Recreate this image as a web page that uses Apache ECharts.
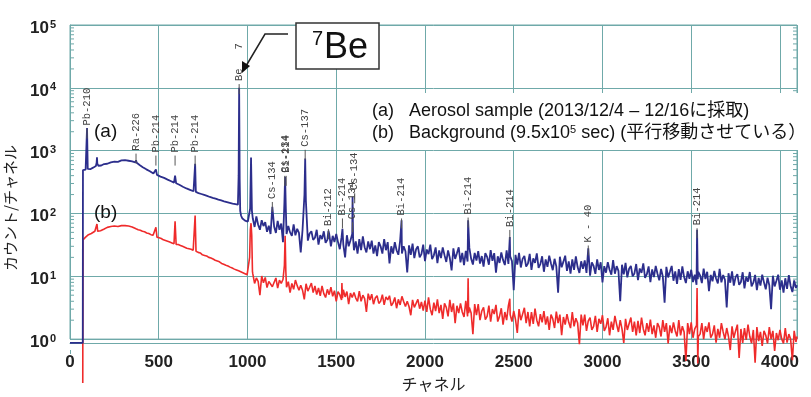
<!DOCTYPE html>
<html>
<head>
<meta charset="utf-8">
<script src="https://cdn.jsdelivr.net/npm/echarts@6/dist/echarts.min.js"></script>
<style>
  html, body { margin: 0; padding: 0; background: #fff; }
  #spec { width: 811px; height: 397px; }
</style>
</head>
<body>
<div id="spec"></div>
<script>
// (a) エアロゾル試料  [channel, counts]
let specA = [
  [0,0.87],[72,0.87],[73,490],[80,482],[88,498],[92,520],[96,2300],[100,512],[106,494],[114,506],[122,518],[130,536],
  [140,555],[146,570],[150,640],[152,780],[154,620],[160,575],[168,588],[176,580],[184,602],[192,612],[200,626],[210,618],
  [220,640],[230,652],[240,646],[250,668],[260,678],[270,664],[280,690],[290,700],[300,686],[310,704],[320,698],[330,690],
  [340,708],[350,676],[360,664],[368,650],[372,700],[376,640],[384,612],[392,592],[400,574],[410,546],[420,526],[430,504],
  [440,482],[450,470],[460,452],[470,432],[478,422],[484,500],[490,412],[500,400],[510,386],[520,376],[530,368],[540,352],
  [550,346],[560,332],[570,326],[580,318],[586,310],[592,400],[598,302],[606,292],[616,286],[626,272],[636,266],[646,256],
  [656,250],[666,242],[676,238],[686,230],[696,226],[701,224],[705,620],[709,220],[716,216],[724,211],[732,207],[740,204],
  [748,199],[756,197],[764,193],[772,190],[780,187],[788,183],[796,181],[804,177],[812,176],[820,172],[828,170],[836,166],
  [844,165],[852,161],[860,160],[868,156],[876,155],[884,152],[892,150],[900,148],[908,146],[916,144],[924,143],[932,141],
  [940,140],[946,138],[950,400],[953,10000],[956,350],[959,110],[964,92],[970,84],[978,80],[986,77],[994,75],[1002,74],
  [1010,73],[1015,120],[1020,780],[1025,110],
  [1030,83],[1040,61],[1050,90],[1060,66],[1070,55],[1080,78],[1090,63],
  [1100,73],[1110,51],[1120,64],[1130,47],[1140,128],[1150,62],[1160,49],[1170,76],[1180,55],[1190,69],
  [1200,35],[1208,150],[1212,385],[1216,120],[1220,47],[1230,63],[1240,50],[1250,44],[1260,67],[1270,45],[1280,57],[1290,49],
  [1300,24],[1310,54],[1321,200],[1325,750],[1329,160],[1340,37],[1350,48],[1360,52],[1370,38],[1380,41],[1390,55],
  [1400,32],[1410,45],[1420,39],[1430,52],[1440,34],[1450,38],[1456,53],[1460,48],[1470,30],[1480,44],[1490,35],
  [1500,47],[1510,35],[1520,27],[1530,42],[1535,57],[1540,32],[1550,20],[1560,45],[1570,30],[1580,37],[1590,47],[1592,185],[1595,40],
  [1600,26],[1610,36],[1620,23],[1630,39],[1640,26],[1650,43],[1660,29],[1670,24],[1680,36],[1690,27],
  [1700,37],[1710,23],[1720,31],[1730,21],[1740,35],[1750,30],[1760,23],[1770,39],[1780,26],[1790,35],
  [1800,16],[1810,30],[1820,23],[1830,35],[1840,26],[1850,22],[1860,37],[1868,78],[1870,23],[1880,30],[1890,25],
  [1900,11.5],[1910,31],[1920,22],[1930,33],[1940,19.5],[1950,27],[1960,30],[1970,20],[1980,22.5],[1990,32],
  [2000,17.4],[2010,26.7],[2020,22.5],[2030,32],[2040,18.8],[2050,21.6],[2060,28.8],[2070,16.2],[2080,25.8],[2090,19.5],
  [2100,28.9],[2110,21.7],[2120,16.9],[2130,25.8],[2140,19.5],[2150,12.4],[2160,27.8],[2170,18.9],[2180,23.2],[2190,28.9],
  [2200,16.6],[2210,23.6],[2220,15],[2230,25.4],[2240,17.2],[2243,78],[2250,28.3],[2260,19.1],[2270,15.4],[2280,23.6],[2290,17.8],
  [2300,25.1],[2310,15.9],[2320,21],[2330,14.3],[2340,23.3],[2350,20.4],[2360,15.3],[2370,26.1],[2380,17.6],[2390,23.3],
  [2400,11.4],[2410,20.8],[2420,16.3],[2430,23.9],[2440,18.1],[2450,15.1],[2460,25.8],[2470,15.7],[2478,42],[2480,20.8],[2490,17.4],
  [2500,6],[2510,21.9],[2520,15.4],[2530,23.5],[2540,13.8],[2550,18.9],[2560,21.1],[2570,14.3],[2580,15.9],[2590,22.7],
  [2600,12.6],[2610,19.3],[2620,16.3],[2630,23.2],[2640,13.6],[2650,15.6],[2660,20.8],[2670,11.8],[2680,18.6],[2690,14.1],
  [2700,21.3],[2710,16],[2720,12.5],[2730,19],[2740,14.4],[2750,5.5],[2760,20.5],[2770,13.9],[2780,17.1],[2790,21.3],
  [2800,12.2],[2810,17.3],[2820,11],[2830,18.6],[2840,12.6],[2850,20.7],[2860,14],[2870,11.3],[2880,17.3],[2890,13.1],
  [2900,17.9],[2910,11.3],[2920,28],[2930,10.2],[2940,16.7],[2950,14.6],[2960,10.9],[2970,18.6],[2980,12.6],[2990,16.7],
  [3000,8],[3010,14.5],[3020,11.4],[3030,16.8],[3040,12.7],[3050,10.6],[3060,18.1],[3070,11],[3080,14.5],[3090,12.2],
  [3100,4],[3110,15.3],[3120,10.7],[3130,16.4],[3140,9.6],[3150,13.2],[3160,14.6],[3170,10],[3180,11.1],[3190,15.7],
  [3200,8.7],[3210,13.3],[3220,11.3],[3230,16],[3240,9.4],[3250,10.8],[3260,14.4],[3270,8.1],[3280,12.9],[3290,9.7],
  [3300,14.6],[3310,11],[3320,8.6],[3330,13.1],[3340,9.9],[3350,3.8],[3360,14.1],[3370,9.6],[3380,11.8],[3390,14.6],
  [3400,8.5],[3410,12],[3420,7.6],[3430,13],[3440,8.8],[3450,14.4],[3460,9.7],[3470,7.8],[3480,12],[3490,9.1],
  [3500,12.7],[3510,8.1],[3520,10.6],[3530,7.3],[3533,55],[3537,9],[3540,11.8],[3550,10.3],[3560,7.8],[3570,13.2],[3580,9],[3590,11.8],
  [3600,5.8],[3610,10.5],[3620,8.3],[3630,12.2],[3640,9.2],[3650,7.7],[3660,13.1],[3670,8],[3680,10.5],[3690,8.8],
  [3700,3.2],[3710,11.2],[3720,7.9],[3730,12],[3740,7.1],[3750,9.7],[3760,10.8],[3770,7.3],[3780,8.1],[3790,11.6],
  [3800,6.4],[3810,9.8],[3820,8.2],[3830,11.7],[3840,6.9],[3850,7.9],[3860,10.5],[3870,6],[3880,9.4],[3890,7.1],
  [3900,10.6],[3910,8],[3920,6.2],[3930,9.5],[3940,7.2],[3950,3],[3960,10.2],[3970,6.9],[3980,8.5],[3990,10.6],
  [4000,6.1],[4010,8.6],[4020,5.5],[4030,9.3],[4040,6.3],[4050,10.4],[4060,7],[4070,5.6],[4080,8.6],[4090,6.5],[4096,7.2]
];

// (b) バックグラウンド（平行移動済み） [channel, counts]
let specB = [
  [72,0.2],[73,38],[80,40],[88,42],[96,44],[104,46],[112,44],[120,48],[130,47],[140,52],[148,55],[152,68],[156,52],[164,55],
  [172,53],[180,57],[190,56],[200,58],[210,60],[220,59],[230,62],[240,61],[250,63],[260,64],[270,62],[280,65],[290,64],
  [300,63],[310,64],[320,62],[330,63],[340,60],[350,61],[360,58],[372,57],[384,55],[396,54],[408,52],[420,51],[432,49],
  [444,48],[456,46],[468,45],[478,43],[484,60],[490,42],[502,41],[514,40],[526,38],[538,37],[550,36],[562,35],[574,34],
  [586,33],[592,75],[598,32],[610,32],[622,31],[634,30],[646,29],[658,28],[670,27.5],[682,27],[694,26],[700,25.5],[705,93],
  [710,25],[722,24],[734,23.5],[746,22],[758,21.5],[770,21],[782,20],[794,19.5],[806,18.8],[818,18],[830,17.5],[842,17],
  [854,16],[866,15.5],[878,15],[890,14.6],[902,14],[914,13.5],[926,13],[938,12.6],[950,12.2],[962,11.8],[974,11.4],[986,11],
  [998,10.6],[1008,10.5],[1012,20],[1016,55],[1020,70],[1024,45],[1028,12],
  [1030,10.9],[1040,7.7],[1050,9.4],[1060,8.3],[1070,5],[1080,10.1],[1090,7.9],
  [1100,9.6],[1110,6.6],[1120,8.3],[1130,8.9],[1140,6.8],[1150,7.3],[1160,9.4],[1170,6.5],[1180,8.7],[1190,7.7],
  [1200,8.9],[1208,15],[1212,44],[1216,12],[1220,6.7],[1230,8.2],[1240,5.5],[1250,7.7],[1260,6.2],[1270,8.7],[1280,7.1],[1290,6.0],
  [1300,7.2],[1310,6],[1320,4.3],[1330,7.6],[1340,5.8],[1350,6.7],[1360,7.8],[1370,5.5],[1380,7],[1390,5.1],
  [1400,6.5],[1410,4.9],[1420,7],[1430,5.3],[1440,4.6],[1450,6.2],[1460,5.1],[1470,6.7],[1480,4.8],[1490,5.9],
  [1500,4],[1510,5.7],[1520,5.1],[1530,4.2],[1532,7.8],[1535,4.5],[1540,6.1],[1550,4.7],[1560,5.7],[1570,3.6],[1580,5.4],[1590,4.6],
  [1600,5.5],[1610,4.5],[1620,4],[1630,5.8],[1640,4],[1650,5],[1660,4.4],[1670,2.7],[1680,5.3],[1690,4.2],
  [1700,5.2],[1710,3.6],[1720,4.5],[1730,4.9],[1740,3.7],[1750,4],[1760,5.1],[1770,3.5],[1780,4.7],[1790,4.2],
  [1800,4.9],[1810,3.4],[1820,3.75],[1830,4.6],[1840,3.1],[1850,4.3],[1860,3.5],[1870,4.8],[1880,3.95],[1890,3.3],
  [1900,4],[1910,3.3],[1920,2.4],[1930,4.2],[1940,3.2],[1950,3.7],[1960,4.3],[1970,3.05],[1980,3.9],[1990,2.85],
  [2000,4.1],[2010,2.7],[2020,4.6],[2030,3],[2040,2.4],[2050,3.8],[2060,2.8],[2070,4.3],[2080,2.6],[2090,3.5],
  [2100,2.1],[2110,3.7],[2120,3.2],[2130,2.3],[2140,4.2],[2150,2.7],[2160,3.7],[2170,1.8],[2180,3.4],[2190,2.6],
  [2200,3.7],[2210,2.7],[2220,2.25],[2230,4.05],[2240,2.3],[2243,9.3],[2246,2.6],[2250,3.2],[2260,2.6],[2270,1.2],[2280,3.6],[2290,2.4],
  [2300,3.6],[2310,2],[2320,2.8],[2330,3.2],[2340,2.05],[2350,2.3],[2360,3.4],[2370,1.9],[2380,3],[2390,2.5],
  [2400,3.5],[2410,1.9],[2420,2.3],[2430,3.1],[2440,1.7],[2450,2.7],[2460,2.0],[2470,3.4],[2478,4.4],[2480,2.45],[2490,1.9],
  [2500,2.8],[2510,2.05],[2520,1.25],[2530,3],[2540,2],[2550,2.5],[2560,3.15],[2570,1.8],[2580,2.7],[2590,1.6],
  [2600,2.7],[2610,1.75],[2620,3.05],[2630,2],[2640,1.6],[2650,2.5],[2660,1.85],[2670,2.8],[2680,1.7],[2690,2.3],
  [2700,1.4],[2710,2.45],[2720,2.1],[2730,1.5],[2740,2.75],[2750,1.8],[2760,2.45],[2770,1.15],[2780,2.25],[2790,1.7],
  [2800,2.5],[2810,1.85],[2820,1.5],[2830,2.7],[2840,1.6],[2850,2.15],[2860,1.8],[2870,0.83],[2880,2.45],[2890,1.65],
  [2900,2.45],[2910,1.35],[2920,1.95],[2930,2.2],[2940,1.4],[2950,1.6],[2960,2.35],[2970,1.3],[2980,2.1],[2990,1.75],
  [3000,2.4],[3010,1.35],[3020,1.55],[3030,2.15],[3040,1.15],[3050,1.9],[3060,1.4],[3070,2.35],[3080,1.7],[3090,1.3],
  [3100,2],[3110,1.45],[3120,0.87],[3130,2.1],[3140,1.4],[3150,1.75],[3160,2.2],[3170,1.3],[3180,1.9],[3190,1.15],
  [3200,1.95],[3210,1.25],[3220,2.2],[3230,1.45],[3240,1.15],[3250,1.8],[3260,1.3],[3270,2.05],[3280,1.2],[3290,1.65],
  [3300,1.05],[3310,1.8],[3320,1.55],[3330,1.1],[3340,2],[3350,1.3],[3360,1.8],[3370,0.85],[3380,1.65],[3390,1.25],
  [3400,1.85],[3410,1.35],[3420,1.1],[3430,2],[3440,1.15],[3450,1.6],[3460,1.3],[3470,0.45],[3480,1.8],[3490,1.2],
  [3500,1.85],[3510,1.05],[3520,1.45],[3530,1.65],[3533,6.5],[3537,0.41],[3540,1.1],[3550,1.2],[3560,1.8],[3570,1.0],[3580,1.6],[3590,1.3],
  [3600,1.85],[3610,1.05],[3620,1.2],[3630,1.65],[3640,0.88],[3650,1.45],[3660,1.05],[3670,1.8],[3680,1.3],[3690,1.0],
  [3700,1.5],[3710,1.1],[3720,0.67],[3730,1.6],[3740,1.05],[3750,1.35],[3760,1.7],[3770,0.5],[3780,1.45],[3790,0.87],
  [3800,1.5],[3810,0.97],[3820,1.7],[3830,1.1],[3840,0.86],[3850,1.4],[3860,0.42],[3870,1.55],[3880,0.93],[3890,1.3],
  [3900,0.78],[3910,1.35],[3920,1.15],[3930,0.85],[3940,1.55],[3950,1.0],[3960,1.35],[3970,0.65],[3980,1.25],[3990,0.96],
  [4000,1.4],[4010,1.0],[4020,0.85],[4030,1.5],[4040,0.88],[4050,1.2],[4060,1.0],[4070,0.46],[4080,1.35],[4090,0.9],[4096,1.1]
];

// 核種ラベル：チャネル / 名前 / ラベル下端のカウント
let peakCh   = [96, 372, 484, 592, 705, 953, 1140, 1210, 1218, 1325, 1456, 1535, 1592, 1604, 1868, 2243, 2478, 2920, 3533];
let peakName = ['Pb-210','Ra-226','Pb-214','Pb-214','Pb-214','Be   7','Cs-134','Cs-134','Bi-214','Cs-137','Bi-212','Bi-214',
                'Cs-134','Cs-134','Bi-214','Bi-214','Bi-214','K - 40','Bi-214'];
let peakBase = [2510, 1000, 931, 931, 931, 12800, 170, 443, 443, 1150, 63, 93, 81, 234, 93, 96, 61, 34.5, 65];

// 対数目盛りの補助目盛り
let minorVals = [2,3,4,5,6,7,8,9, 20,30,40,50,60,70,80,90, 200,300,400,500,600,700,800,900,
                 2000,3000,4000,5000,6000,7000,8000,9000, 20000,30000,40000,50000,60000,70000,80000,90000];

let gridCol = '#6fa9a9';
let numFont = '"Liberation Sans Narrow", "Liberation Sans", Arial, sans-serif';
let txtFont = '"Liberation Sans", Arial, "Noto Sans CJK JP", sans-serif';
let jpFont = '"Noto Sans CJK JP", sans-serif';

let chart = echarts.init(document.getElementById('spec'));
chart.setOption({
  animation: false,
  backgroundColor: '#fff',
  grid: { left: 70, right: 14, top: 25, bottom: 47, show: true, borderColor: gridCol, borderWidth: 1 },
  xAxis: {
    type: 'value', min: 0, max: 4096, interval: 500, offset: 4,
    axisLine: { lineStyle: { color: gridCol } },
    axisTick: { show: false },
    splitLine: { lineStyle: { color: gridCol, width: 1 } },
    axisLabel: {
      margin: 11, color: '#222', fontSize: 17, fontWeight: 'bold', fontFamily: numFont,
      formatter: function (v) { return v % 500 === 0 ? String(v) : ''; }
    },
    name: 'チャネル', nameLocation: 'middle', nameGap: 28,
    nameTextStyle: { color: '#222', fontSize: 16, fontFamily: jpFont }
  },
  yAxis: {
    type: 'log', logBase: 10, min: 1, max: 100000,
    axisLine: { show: true, lineStyle: { color: gridCol } },
    axisTick: { show: false },
    splitLine: { lineStyle: { color: gridCol, width: 1 } },
    axisLabel: {
      margin: 14, padding: [6, 0, 0, 0],
      formatter: function (v) {
        let l = Math.log10(v);
        let n = Math.round(l);
        if (Math.abs(l - n) > 1e-6) return '';
        return '{b|10}{e|' + n + '}';
      },
      rich: {
        b: { fontSize: 17, fontWeight: 'bold', fontFamily: numFont, color: '#222' },
        e: { fontSize: 11, fontWeight: 'bold', fontFamily: numFont, color: '#222', verticalAlign: 'top', padding: [0, 0, 7, 1] }
      }
    }
  },
  series: [
    {
      name: '(b)', type: 'line', data: specB, showSymbol: false, clip: false, z: 2,
      lineStyle: { color: '#ef2b2b', width: 1.6 }
    },
    {
      name: '(a)', type: 'line', data: specA, showSymbol: false, clip: false, z: 3,
      lineStyle: { color: '#2c2e8c', width: 1.8 }
    },
    {
      // 補助目盛り（左右の枠内側）
      type: 'custom', silent: true, z: 1,
      data: minorVals.map(function (v) { return [0, v]; }),
      renderItem: function (params, api) {
        let y = api.coord([0, api.value(1)])[1];
        let cs = params.coordSys;
        return { type: 'group', children: [
          { type: 'line', shape: { x1: cs.x, y1: y, x2: cs.x + 4, y2: y }, style: { stroke: gridCol, lineWidth: 1 } },
          { type: 'line', shape: { x1: cs.x + cs.width - 4, y1: y, x2: cs.x + cs.width, y2: y }, style: { stroke: gridCol, lineWidth: 1 } }
        ] };
      }
    },
    {
      // 核種名（縦書き）と引き出し線
      type: 'custom', silent: true, z: 4,
      data: peakCh.map(function (c, i) { return [c, peakBase[i], i]; }),
      renderItem: function (params, api) {
        let p = api.coord([api.value(0), api.value(1)]);
        return { type: 'group', children: [
          { type: 'line', shape: { x1: p[0], y1: p[1] + 3, x2: p[0], y2: p[1] + 13 }, style: { stroke: '#555', lineWidth: 1 } },
          { type: 'text', x: p[0], y: p[1], rotation: Math.PI / 2,
            style: { text: peakName[api.value(2)], font: '10.5px "Liberation Mono", "DejaVu Sans Mono", monospace',
                     fill: '#444', align: 'left', verticalAlign: 'middle' } }
        ] };
      }
    }
  ],
  graphic: [
    // 左枠を下の軸まで延長
    { type: 'line', z: 1, shape: { x1: 70.5, y1: 350, x2: 70.5, y2: 354 }, style: { stroke: gridCol, lineWidth: 1 } },
    { type: 'text', rotation: Math.PI / 2, z: 10, x: 10, y: 208,
      style: { text: 'カウント/チャネル', font: '15px ' + jpFont, fill: '#222', align: 'center', verticalAlign: 'middle' } },
    { type: 'text', x: 94, y: 132, z: 10, style: { text: '(a)', font: '19px ' + txtFont, fill: '#111', verticalAlign: 'middle' } },
    { type: 'text', x: 94, y: 213, z: 10, style: { text: '(b)', font: '19px ' + txtFont, fill: '#111', verticalAlign: 'middle' } },
    { type: 'rect', x: 365, y: 93, z: 9, shape: { width: 446, height: 57 }, style: { fill: '#fff' } },
    { type: 'text', x: 372, y: 111, z: 10, style: { text: '(a)', font: '18px ' + txtFont, fill: '#111', verticalAlign: 'middle' } },
    { type: 'text', x: 409, y: 111, z: 10, style: { text: 'Aerosol sample (2013/12/4 – 12/16に採取)', font: '18px ' + txtFont, fill: '#111', verticalAlign: 'middle' } },
    { type: 'text', x: 372, y: 133, z: 10, style: { text: '(b)', font: '18px ' + txtFont, fill: '#111', verticalAlign: 'middle' } },
    { type: 'text', x: 409, y: 133, z: 10,
      style: { text: 'Background (9.5x10{s|5} sec) (平行移動させている）', font: '18px ' + txtFont, fill: '#111', verticalAlign: 'middle',
               rich: { s: { fontSize: 11, fontFamily: txtFont, fill: '#111', verticalAlign: 'top', padding: [0, 0, 6, 0] } } } },
    // 7Be 注記
    { type: 'rect', x: 296, y: 23, z: 10, shape: { width: 83, height: 46 }, style: { fill: '#fff', stroke: '#333', lineWidth: 1.5 } },
    { type: 'text', x: 312, y: 39, z: 11, style: { text: '7', font: '20px ' + txtFont, fill: '#111', verticalAlign: 'middle' } },
    { type: 'text', x: 324, y: 48, z: 11, style: { text: 'Be', font: '36px ' + numFont, fill: '#111', verticalAlign: 'middle' } },
    { type: 'polyline', z: 10, shape: { points: [[288, 34], [265, 34], [246, 66]] }, style: { stroke: '#222', lineWidth: 1.5, fill: null } },
    { type: 'polygon', z: 10, shape: { points: [[242, 73], [242, 61], [250, 66]] }, style: { fill: '#111' } }
  ]
});
</script>
</body>
</html>
